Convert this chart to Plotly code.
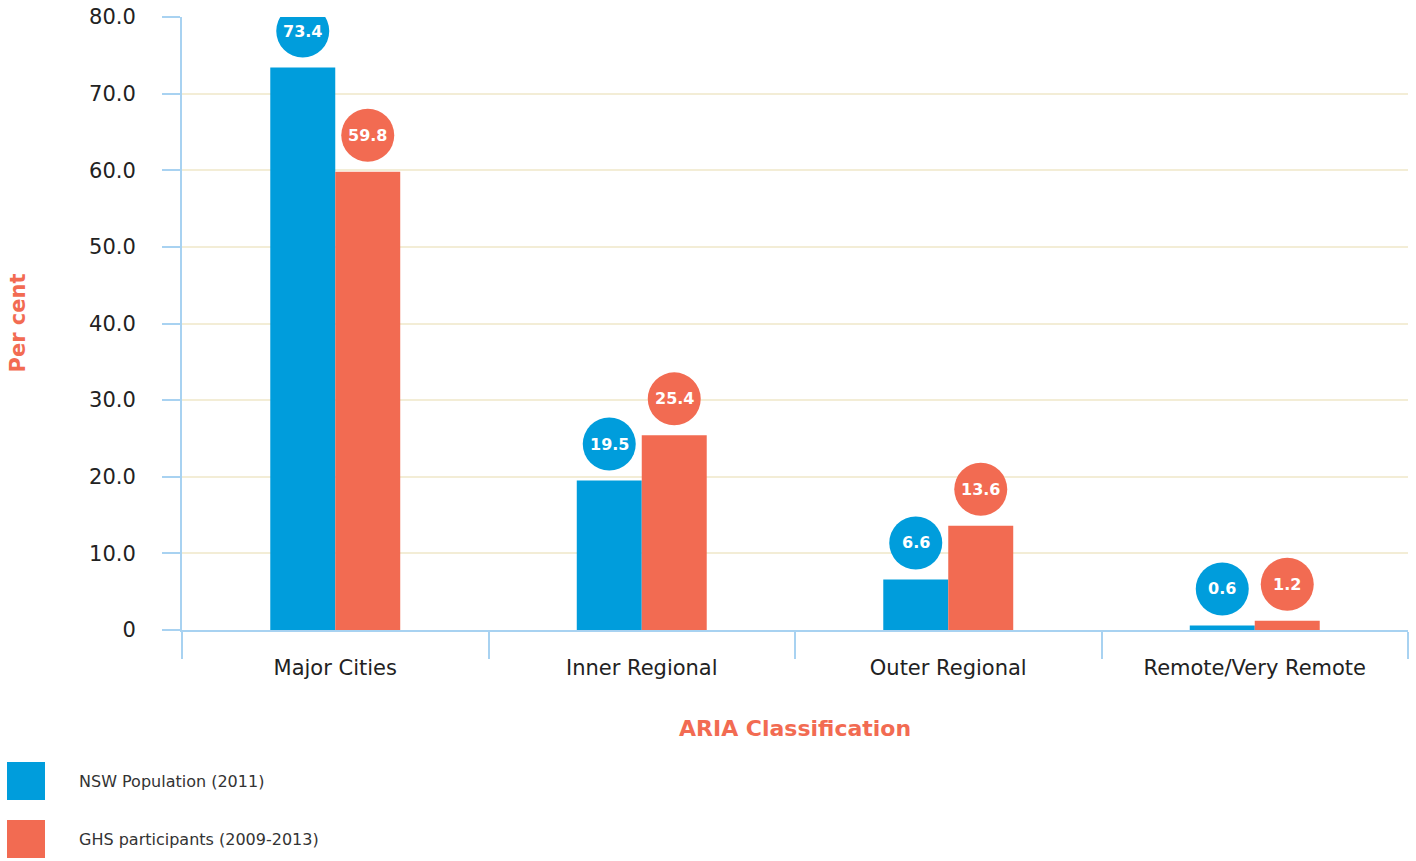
import plotly.graph_objects as go

# ARIA remoteness categories and the share of people in each (per cent)
categories = ["Major Cities", "Inner Regional", "Outer Regional", "Remote/Very Remote"]
nsw_population = [73.4, 19.5, 6.6, 0.6]
ghs_participants = [59.8, 25.4, 13.6, 1.2]
series_names = ["NSW Population (2011)", "GHS participants (2009-2013)"]

y_tick_values = [0, 10, 20, 30, 40, 50, 60, 70, 80]
y_tick_labels = ["0", "10.0", "20.0", "30.0", "40.0", "50.0", "60.0", "70.0", "80.0"]

BLUE = "#009ddc"
ORANGE = "#f26b52"
AXIS = "#a8d2f1"
GRID = "#f3edd6"
FONT = "DejaVu Sans"

fig = go.Figure()
for name, vals, col in [(series_names[0], nsw_population, BLUE),
                        (series_names[1], ghs_participants, ORANGE)]:
    fig.add_trace(go.Bar(x=categories, y=vals, name=name, marker_color=col,
                         marker_line_width=0, showlegend=False))

# value bubbles above each bar, anchored at the bar top in data units
shapes = []
annotations = []
for vals, col, dx in [(nsw_population, BLUE, -32.5), (ghs_participants, ORANGE, 32.5)]:
    for cat, v in zip(categories, vals):
        shapes.append(dict(type="circle", xref="x", yref="y",
                           xsizemode="pixel", ysizemode="pixel",
                           xanchor=cat, yanchor=v,
                           x0=dx - 26.5, x1=dx + 26.5, y0=10, y1=63,
                           fillcolor=col, line_width=0, layer="above"))
        annotations.append(dict(x=cat, y=v, xref="x", yref="y", text=f"<b>{v}</b>",
                                showarrow=False, xshift=dx, yshift=36.5,
                                font=dict(family=FONT, size=16, color="white")))

# legend swatches and labels below the plot
for i, (name, col) in enumerate(zip(series_names, [BLUE, ORANGE])):
    top = -132 - 58 * i
    shapes.append(dict(type="rect", xref="paper", yref="paper",
                       xsizemode="pixel", ysizemode="pixel", xanchor=0, yanchor=0,
                       x0=-175, x1=-137, y0=top - 38, y1=top,
                       fillcolor=col, line_width=0))
    annotations.append(dict(x=0, y=0, xref="paper", yref="paper", text=name,
                            showarrow=False, xanchor="left", yanchor="middle",
                            xshift=-105, yshift=top - 19,
                            font=dict(family=FONT, size=16, color="#333333")))

# axis titles
annotations.append(dict(x=0.5, y=0, xref="paper", yref="paper",
                        text="<b>ARIA Classification</b>", showarrow=False,
                        yanchor="middle", yshift=-98,
                        font=dict(family=FONT, size=22, color=ORANGE)))
annotations.append(dict(x=0, y=0.5, xref="paper", yref="paper",
                        text="<b>Per cent</b>", showarrow=False, textangle=-90,
                        xanchor="center", yanchor="middle", xshift=-165,
                        font=dict(family=FONT, size=21, color=ORANGE)))

fig.update_layout(
    width=1416, height=861,
    margin=dict(l=182, r=8, t=17, b=231, autoexpand=False),
    paper_bgcolor="white", plot_bgcolor="white",
    barmode="group", bargap=0.576, bargroupgap=0,
    font=dict(family=FONT, color="#222222"),
    shapes=shapes, annotations=annotations,
)
fig.update_xaxes(
    automargin=False,
    showline=True, linecolor=AXIS, linewidth=2,
    ticks="outside", tickson="boundaries", ticklen=27, tickcolor=AXIS, tickwidth=2,
    tickfont=dict(family=FONT, size=21, color="#222222"),
    ticklabelstandoff=18,
    showgrid=False,
)
fig.update_yaxes(
    automargin=False,
    range=[0, 80], tickvals=y_tick_values, ticktext=y_tick_labels,
    showline=True, linecolor=AXIS, linewidth=2,
    ticks="outside", ticklen=18, tickcolor=AXIS, tickwidth=2,
    tickfont=dict(family=FONT, size=21, color="#222222"),
    showgrid=True, gridcolor=GRID, gridwidth=2, zeroline=False,
    ticklabelstandoff=22,
)

fig.write_html("out.html")
